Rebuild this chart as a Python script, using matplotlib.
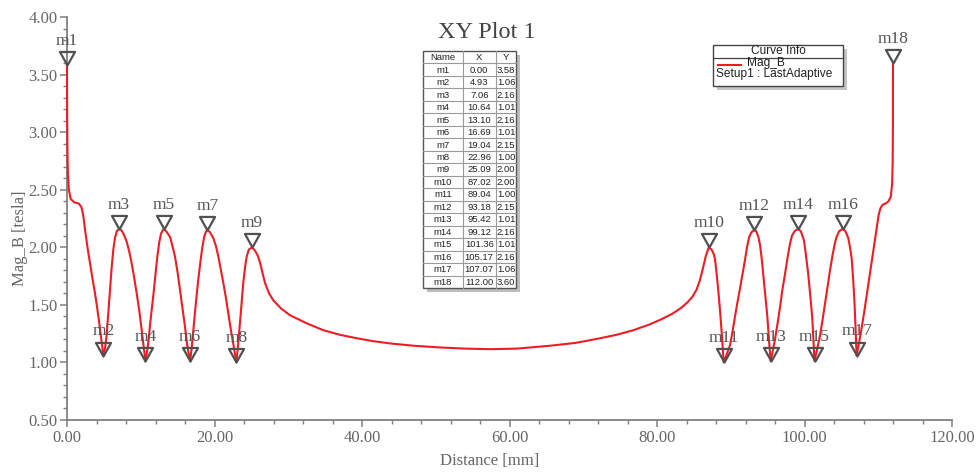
import matplotlib
matplotlib.use("Agg")
import matplotlib.pyplot as plt
from matplotlib.path import Path
from matplotlib.patches import Rectangle
from matplotlib.ticker import MultipleLocator, FormatStrFormatter

# curve
curve_x = [
    0.00, 0.02, 0.06, 0.12, 0.25, 0.50, 1.00, 1.60, 1.95, 2.20, 2.45, 2.80, 3.12, 3.50, 3.80,
    4.10, 4.38, 4.65, 4.93, 5.15, 5.38, 5.60, 5.83, 6.05, 6.28, 6.50, 6.75, 7.06, 7.35, 7.64,
    8.09, 8.45, 8.77, 9.10, 9.45, 9.80, 10.12, 10.40, 10.64, 10.85, 11.03, 11.35, 11.70, 12.00,
    12.25, 12.50, 12.75, 13.10, 13.45, 13.97, 14.30, 14.64, 15.00, 15.32, 15.65, 16.00, 16.30,
    16.69, 16.90, 17.13, 17.45, 17.80, 18.10, 18.35, 18.60, 18.80, 19.04, 19.40, 19.84, 20.20,
    20.52, 20.85, 21.20, 21.55, 21.87, 22.20, 22.55, 22.96, 23.15, 23.37, 23.65, 23.90, 24.15,
    24.37, 24.65, 25.09, 25.50, 25.85, 26.17, 26.50, 26.85, 27.40, 27.97, 29.00, 30.24, 32.50,
    34.75, 37.00, 39.28, 41.50, 43.80, 47.00, 50.58, 54.00, 57.50, 61.00, 65.50, 69.00, 72.30,
    74.50, 76.80, 79.00, 80.60, 82.00, 83.20, 84.10, 84.80, 85.35, 85.80, 86.20, 86.60, 87.02,
    87.40, 87.70, 87.86, 88.10, 88.30, 88.55, 88.77, 89.04, 89.45, 89.90, 90.25, 90.58, 90.90,
    91.25, 91.60, 91.93, 92.20, 92.50, 92.80, 93.18, 93.45, 93.75, 93.97, 94.20, 94.40, 94.70,
    94.96, 95.20, 95.42, 95.70, 96.00, 96.35, 96.68, 97.00, 97.36, 97.70, 98.03, 98.30, 98.65,
    99.12, 99.50, 99.93, 100.20, 100.50, 100.80, 101.06, 101.36, 101.70, 102.10, 102.45,
    102.78, 103.10, 103.46, 103.80, 104.10, 104.35, 104.70, 105.17, 105.55, 105.94, 106.20,
    106.40, 106.60, 106.78, 106.95, 107.07, 107.40, 107.75, 108.10, 108.43, 108.75, 109.10,
    109.45, 109.78, 110.05, 110.30, 110.60, 111.00, 111.40, 111.70, 111.88, 111.96, 111.99,
    112.00,
]
curve_y = [
    3.58, 3.20, 2.85, 2.65, 2.50, 2.42, 2.39, 2.38, 2.35, 2.28, 2.15, 1.99, 1.86, 1.71, 1.60,
    1.47, 1.34, 1.20, 1.06, 1.12, 1.24, 1.43, 1.63, 1.82, 1.98, 2.08, 2.14, 2.16, 2.15, 2.12,
    2.05, 1.96, 1.86, 1.74, 1.60, 1.45, 1.28, 1.13, 1.01, 1.09, 1.18, 1.38, 1.58, 1.77,
    1.92, 2.04, 2.12, 2.16, 2.14, 2.09, 2.01, 1.92, 1.78, 1.63, 1.47, 1.31, 1.15,
    1.01, 1.12, 1.28, 1.50, 1.72, 1.88, 2.00, 2.09, 2.13, 2.15, 2.13, 2.08, 2.01,
    1.92, 1.81, 1.69, 1.56, 1.43, 1.29, 1.16, 1.00, 1.12, 1.28, 1.50, 1.69, 1.83,
    1.92, 1.98, 2.00, 1.97, 1.93, 1.87, 1.78, 1.69, 1.60, 1.54, 1.47, 1.41, 1.34,
    1.28, 1.24, 1.21, 1.185, 1.165, 1.145, 1.13, 1.12, 1.115, 1.12, 1.145, 1.17, 1.21,
    1.24, 1.28, 1.33, 1.375, 1.42, 1.47, 1.52, 1.57, 1.63, 1.71, 1.81, 1.92, 2.00,
    1.98, 1.94, 1.90, 1.76, 1.63, 1.45, 1.26, 1.00, 1.07, 1.15, 1.27, 1.40, 1.52,
    1.64, 1.77, 1.89, 2.00, 2.09, 2.13, 2.15, 2.14, 2.09, 2.02, 1.90, 1.77, 1.57,
    1.40, 1.18, 1.01, 1.10, 1.20, 1.34, 1.48, 1.63, 1.77, 1.91, 2.03, 2.10, 2.14,
    2.16, 2.14, 2.06, 1.93, 1.77, 1.57, 1.38, 1.01, 1.11, 1.23, 1.37,
    1.51, 1.65, 1.80, 1.93, 2.03, 2.09, 2.14, 2.16, 2.14, 2.08, 1.99,
    1.90, 1.72, 1.52, 1.25, 1.06, 1.17, 1.30, 1.44, 1.58, 1.72, 1.87,
    2.02, 2.16, 2.28, 2.34, 2.37, 2.38, 2.40, 2.44, 2.55, 2.75, 3.10,
    3.60,
]

marker_names = ["m1", "m2", "m3", "m4", "m5", "m6", "m7", "m8", "m9",
                "m10", "m11", "m12", "m13", "m14", "m15", "m16", "m17", "m18"]
marker_x = [0.00, 4.93, 7.06, 10.64, 13.10, 16.69, 19.04, 22.96, 25.09,
            87.02, 89.04, 93.18, 95.42, 99.12, 101.36, 105.17, 107.07, 112.00]
marker_y = [3.58, 1.06, 2.16, 1.01, 2.16, 1.01, 2.15, 1.00, 2.00,
            2.00, 1.00, 2.15, 1.01, 2.16, 1.01, 2.16, 1.06, 3.60]

x_ticks = [0, 20, 40, 60, 80, 100, 120]
y_ticks = [0.5, 1.0, 1.5, 2.0, 2.5, 3.0, 3.5, 4.0]

SERIF = "Liberation Serif"
SANS = "Liberation Sans"
GREY = "#666666"
W, H = 976, 472

fig = plt.figure(figsize=(W / 100, H / 100), dpi=100)
ax = fig.add_axes([67 / W, 1 - 420 / H, (952 - 67) / W, (420 - 17) / H])

ax.plot(curve_x, curve_y, color="#ee1c24", lw=1.5, clip_on=False, zorder=3)

# down triangle with its tip on the point
tri = Path([(0, 0), (-1, 1.8), (1, 1.8), (0, 0)],
           [Path.MOVETO, Path.LINETO, Path.LINETO, Path.CLOSEPOLY])
ax.plot(marker_x, marker_y, ls="none", marker=tri, ms=19.5, mfc="none",
        mec="#505050", mew=1.6, clip_on=False, zorder=4)
for name, mx, my in zip(marker_names, marker_x, marker_y):
    ax.annotate(name, (mx, my), xytext=(0, 14.5), textcoords="offset points",
                ha="center", va="baseline", fontsize=12.5, family=SERIF,
                color="#555555", annotation_clip=False)

ax.set_xlim(0, 120)
ax.set_ylim(0.5, 4.0)
ax.set_xticks(x_ticks)
ax.set_yticks(y_ticks)
ax.xaxis.set_minor_locator(MultipleLocator(4))
ax.yaxis.set_minor_locator(MultipleLocator(0.1))
ax.xaxis.set_major_formatter(FormatStrFormatter("%.2f"))
ax.yaxis.set_major_formatter(FormatStrFormatter("%.2f"))
for s in ["top", "right"]:
    ax.spines[s].set_visible(False)
for s in ["left", "bottom"]:
    ax.spines[s].set_color("#808080")
    ax.spines[s].set_linewidth(1.3)
ax.tick_params(which="major", length=5, width=1.1, color="#808080",
               labelsize=12, labelcolor=GREY, pad=2)
ax.tick_params(which="minor", length=3, width=1.0, color="#808080")
for lab in ax.get_xticklabels() + ax.get_yticklabels():
    lab.set_family(SERIF)

# overlay in pixel coordinates for title, labels, table and legend
ov = fig.add_axes([0, 0, 1, 1], zorder=10)
ov.set_xlim(0, W)
ov.set_ylim(H, 0)
ov.axis("off")

ov.text(487, 33, "XY Plot 1", ha="center", va="center", fontsize=17.5,
        family=SERIF, color="#444444")
ov.text(490, 461, "Distance [mm]", ha="center", va="center", fontsize=12,
        family=SERIF, color=GREY)
ov.text(20, 238, "Mag_B [tesla]", ha="center", va="center", fontsize=12,
        family=SERIF, color=GREY, rotation=90)

# marker table
tx0, tx1, ty0, ty1 = 423, 516, 51, 288
col_edges = [423, 462.5, 496, 516]
n_rows = len(marker_names) + 1
row_h = (ty1 - ty0) / n_rows
ov.add_patch(Rectangle((tx0 + 4, ty0 + 4), tx1 - tx0, ty1 - ty0,
                       facecolor="#bdbdbd", edgecolor="none"))
ov.add_patch(Rectangle((tx0, ty0), tx1 - tx0, ty1 - ty0,
                       facecolor="white", edgecolor="#555555", lw=1.0))
for i in range(1, n_rows):
    ov.plot([tx0, tx1], [ty0 + i * row_h] * 2, color="#9a9a9a", lw=0.8)
for cx in col_edges[1:-1]:
    ov.plot([cx, cx], [ty0, ty1], color="#9a9a9a", lw=0.8)
rows = [("Name", "X", "Y")] + [(n, f"{x:.2f}", f"{y:.2f}")
                               for n, x, y in zip(marker_names, marker_x, marker_y)]
for i, row in enumerate(rows):
    yc = ty0 + (i + 0.5) * row_h
    for j, cell in enumerate(row):
        xc = (col_edges[j] + col_edges[j + 1]) / 2
        ov.text(xc, yc + 0.5, cell, ha="center", va="center", fontsize=6.8,
                family=SANS, color="#222222")

# curve info box
lx0, lx1, ly0, ly1 = 713, 843, 45, 86
ov.add_patch(Rectangle((lx0 + 4, ly0 + 4), lx1 - lx0, ly1 - ly0,
                       facecolor="#c4c4c4", edgecolor="none"))
ov.add_patch(Rectangle((lx0, ly0), lx1 - lx0, ly1 - ly0,
                       facecolor="white", edgecolor="#444444", lw=1.0))
ov.plot([lx0, lx1], [57.5, 57.5], color="#444444", lw=0.9)
ov.text(778, 51.5, "Curve Info", ha="center", va="center", fontsize=8.6,
        family=SANS, color="#222222")
ov.plot([718, 741], [64.5, 64.5], color="#ee1c24", lw=1.5)
ov.text(747, 63, "Mag_B", ha="left", va="center", fontsize=8.6,
        family=SANS, color="#222222")
ov.text(716, 74.5, "Setup1 : LastAdaptive", ha="left", va="center", fontsize=8.6,
        family=SANS, color="#222222")

fig.savefig("out.png", dpi=100)
